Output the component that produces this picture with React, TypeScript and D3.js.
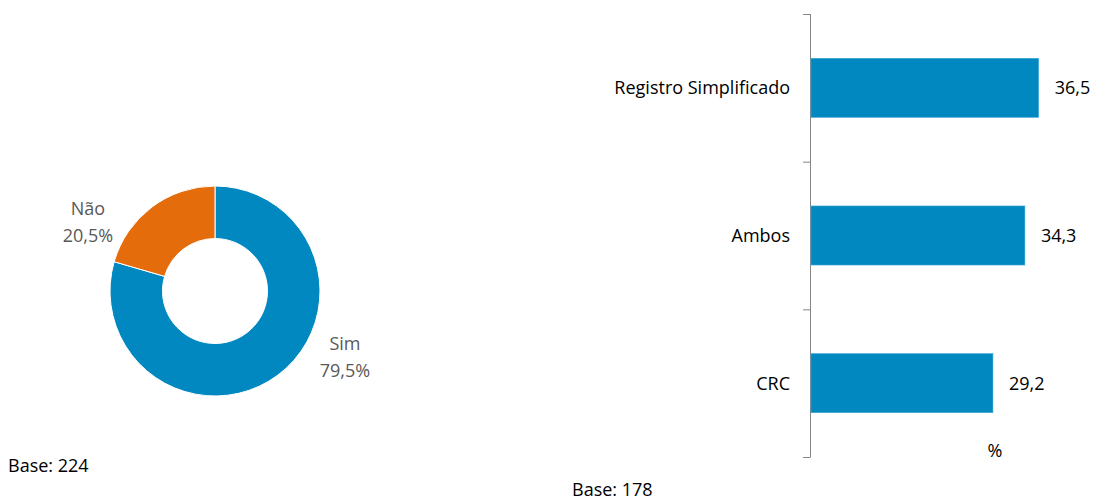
import React from "react";
import * as d3 from "d3";

const pieLabels = ["Sim", "Não"];
const pieValues = [79.5, 20.5];
const pieColors = ["#0288C0", "#E46C0A"];

const barCategories = ["Registro Simplificado", "Ambos", "CRC"];
const barValues = [36.5, 34.3, 29.2];

const fmt = (v: number) => v.toFixed(1).replace(".", ",");
const FONT = "'Open Sans', Lato, sans-serif";

export default function App() {
  const W = 1103, H = 500;
  const cx = 215, cy = 291, rO = 105, rI = 52.5;
  const pie = d3.pie<number>().sort(null).value((d) => d)(pieValues);
  const arc = d3.arc<d3.PieArcDatum<number>>().innerRadius(rI).outerRadius(rO);

  const x = d3.scaleLinear().domain([0, 40]).range([810, 810 + 250.6]);
  const y = d3.scaleBand<string>().domain(barCategories).range([14, 457]).paddingInner(0.6).paddingOuter(0.3);
  const step = y.step();

  const labelPos = [
    { x: 345, y: 343 },
    { x: 88, y: 208 },
  ];

  return (
    <svg width={W} height={H} style={{ position: "absolute", left: 0, top: 0 }} fontFamily={FONT}>
      <g>
        {pie.map((p, i) => (
          <path key={i} d={arc(p) || ""} transform={`translate(${cx},${cy})`} fill={pieColors[i]} stroke="#fff" strokeWidth={1} />
        ))}
        {pie.map((p, i) => (
          <text key={"l" + i} x={labelPos[i].x} fill="#595959" fontSize={18} textAnchor="middle">
            <tspan x={labelPos[i].x} y={labelPos[i].y + 6.5}>{pieLabels[i]}</tspan>
            <tspan x={labelPos[i].x} y={labelPos[i].y + 34}>{fmt(pieValues[i]) + "%"}</tspan>
          </text>
        ))}
        <text x={8} y={472} fontSize={18} fill="#000">Base: 224</text>
      </g>
      <g>
        <line x1={810.5} x2={810.5} y1={14} y2={457} stroke="#868686" strokeWidth={1} />
        {[0, 1, 2, 3].map((k) => (
          <line key={k} x1={803} x2={810.5} y1={14 + k * step + 0.5} y2={14 + k * step + 0.5} stroke="#868686" strokeWidth={1} />
        ))}
        {barCategories.map((c, i) => (
          <g key={c}>
            <rect x={x(0) + 1} y={y(c)!} width={x(barValues[i]) - x(0) - 1} height={y.bandwidth()} fill="#0288C0" stroke="#3FA9D6" strokeWidth={0.6} />
            <text x={790} y={(y(c) || 0) + y.bandwidth() / 2 + 6.5} fontSize={18} textAnchor="end" fill="#000">{c}</text>
            <text x={x(barValues[i]) + 16} y={(y(c) || 0) + y.bandwidth() / 2 + 6.5} fontSize={18} fill="#000">{fmt(barValues[i])}</text>
          </g>
        ))}
        <text x={995} y={457} fontSize={18} textAnchor="middle" fill="#000">%</text>
        <text x={572} y={496} fontSize={18} fill="#000">Base: 178</text>
      </g>
    </svg>
  );
}
